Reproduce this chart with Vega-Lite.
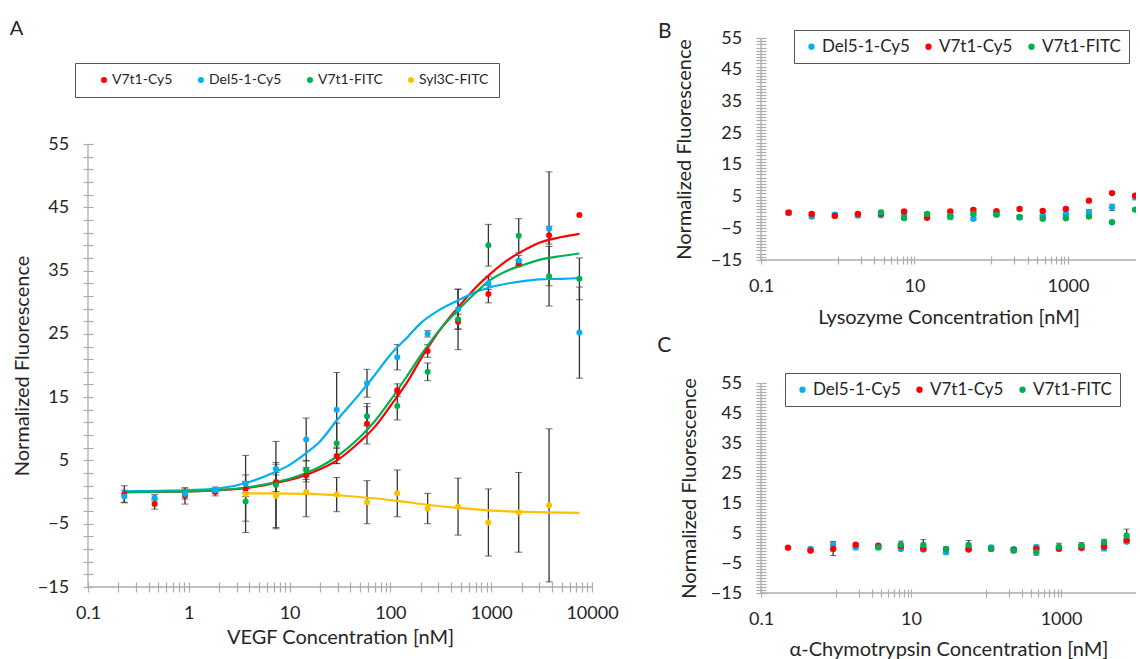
{
  "$schema": "https://vega.github.io/schema/vega-lite/v6.json",
  "padding": {"left": 9, "top": 18, "right": 0, "bottom": 0},
  "background": "white",
  "spacing": 38,
  "datasets": {
    "vegf": [
      {"c":0.229,"s":"V7t1-Cy5","v":-0.3,"e":1.3},{"c":0.458,"s":"V7t1-Cy5","v":-1.9,"e":0.8},{"c":0.916,"s":"V7t1-Cy5","v":-0.6,"e":1.3},{"c":1.83,"s":"V7t1-Cy5","v":0.0,"e":0.6},
      {"c":3.66,"s":"V7t1-Cy5","v":0.5,"e":1.2},{"c":7.32,"s":"V7t1-Cy5","v":1.6,"e":1.5},{"c":14.6,"s":"V7t1-Cy5","v":2.6,"e":1.0},{"c":29.3,"s":"V7t1-Cy5","v":5.7,"e":1.2},
      {"c":58.6,"s":"V7t1-Cy5","v":10.8,"e":3.2},{"c":117,"s":"V7t1-Cy5","v":16.1,"e":1.0},{"c":234,"s":"V7t1-Cy5","v":22.3,"e":1.0},{"c":469,"s":"V7t1-Cy5","v":26.9,"e":1.2},
      {"c":938,"s":"V7t1-Cy5","v":31.3,"e":1.4},{"c":1875,"s":"V7t1-Cy5","v":36.1,"e":0.5},{"c":3750,"s":"V7t1-Cy5","v":40.6,"e":1.4},{"c":7500,"s":"V7t1-Cy5","v":43.8,"e":0},
      {"c":0.229,"s":"Del5-1-Cy5","v":-0.7,"e":1.0},{"c":0.458,"s":"Del5-1-Cy5","v":-0.9,"e":0.5},{"c":0.916,"s":"Del5-1-Cy5","v":-0.3,"e":0.8},{"c":1.83,"s":"Del5-1-Cy5","v":0.3,"e":0.5},
      {"c":3.66,"s":"Del5-1-Cy5","v":1.3,"e":1.4},{"c":7.32,"s":"Del5-1-Cy5","v":3.7,"e":1.0},{"c":14.6,"s":"Del5-1-Cy5","v":8.3,"e":3.4},{"c":29.3,"s":"Del5-1-Cy5","v":13.0,"e":5.9},
      {"c":58.6,"s":"Del5-1-Cy5","v":17.2,"e":2.2},{"c":117,"s":"Del5-1-Cy5","v":21.3,"e":2.0},{"c":234,"s":"Del5-1-Cy5","v":25.0,"e":0.5},{"c":469,"s":"Del5-1-Cy5","v":28.9,"e":3.1},
      {"c":938,"s":"Del5-1-Cy5","v":33.0,"e":1.0},{"c":1875,"s":"Del5-1-Cy5","v":36.6,"e":0.8},{"c":3750,"s":"Del5-1-Cy5","v":41.6,"e":9.0},{"c":7500,"s":"Del5-1-Cy5","v":25.2,"e":7.2},
      {"c":3.66,"s":"V7t1-FITC","v":-1.5,"e":3.1},{"c":7.32,"s":"V7t1-FITC","v":1.1,"e":6.9},{"c":14.6,"s":"V7t1-FITC","v":3.5,"e":1.5},{"c":29.3,"s":"V7t1-FITC","v":7.7,"e":3.2},
      {"c":58.6,"s":"V7t1-FITC","v":12.0,"e":1.5},{"c":117,"s":"V7t1-FITC","v":13.6,"e":2.2},{"c":234,"s":"V7t1-FITC","v":19.0,"e":1.4},{"c":469,"s":"V7t1-FITC","v":27.3,"e":4.8},
      {"c":938,"s":"V7t1-FITC","v":39.0,"e":3.3},{"c":1875,"s":"V7t1-FITC","v":40.5,"e":2.7},{"c":3750,"s":"V7t1-FITC","v":34.1,"e":4.7},{"c":7500,"s":"V7t1-FITC","v":33.7,"e":3.3},
      {"c":3.66,"s":"Syl3C-FITC","v":-0.3,"e":6.1},{"c":7.32,"s":"Syl3C-FITC","v":-0.6,"e":5.0},{"c":14.6,"s":"Syl3C-FITC","v":0.0,"e":3.9},{"c":29.3,"s":"Syl3C-FITC","v":-0.4,"e":2.7},
      {"c":58.6,"s":"Syl3C-FITC","v":-1.6,"e":3.4},{"c":117,"s":"Syl3C-FITC","v":-0.2,"e":3.7},{"c":234,"s":"Syl3C-FITC","v":-2.6,"e":2.4},{"c":469,"s":"Syl3C-FITC","v":-2.3,"e":4.5},
      {"c":938,"s":"Syl3C-FITC","v":-4.8,"e":5.3},{"c":1875,"s":"Syl3C-FITC","v":-3.2,"e":6.3},{"c":3750,"s":"Syl3C-FITC","v":-2.1,"e":12.1}
    ],
    "vegfFit": [
      {"c":0.229,"s":"V7t1-Cy5","v":0.0},{"c":0.5,"s":"V7t1-Cy5","v":0.05},{"c":1,"s":"V7t1-Cy5","v":0.1},{"c":2,"s":"V7t1-Cy5","v":0.3},{"c":4,"s":"V7t1-Cy5","v":0.7},{"c":7,"s":"V7t1-Cy5","v":1.4},{"c":10,"s":"V7t1-Cy5","v":1.9},{"c":15,"s":"V7t1-Cy5","v":2.8},{"c":20,"s":"V7t1-Cy5","v":3.6},{"c":30,"s":"V7t1-Cy5","v":5.1},{"c":50,"s":"V7t1-Cy5","v":8.0},{"c":70,"s":"V7t1-Cy5","v":10.3},{"c":100,"s":"V7t1-Cy5","v":13.6},{"c":150,"s":"V7t1-Cy5","v":17.6},{"c":200,"s":"V7t1-Cy5","v":21.0},{"c":300,"s":"V7t1-Cy5","v":25.3},{"c":500,"s":"V7t1-Cy5","v":29.7},{"c":700,"s":"V7t1-Cy5","v":32.3},{"c":1000,"s":"V7t1-Cy5","v":34.6},{"c":1500,"s":"V7t1-Cy5","v":36.8},{"c":2000,"s":"V7t1-Cy5","v":38.0},{"c":3000,"s":"V7t1-Cy5","v":39.4},{"c":5000,"s":"V7t1-Cy5","v":40.3},{"c":7500,"s":"V7t1-Cy5","v":40.8},
      {"c":0.229,"s":"Del5-1-Cy5","v":0.1},{"c":0.5,"s":"Del5-1-Cy5","v":0.2},{"c":1,"s":"Del5-1-Cy5","v":0.3},{"c":2,"s":"Del5-1-Cy5","v":0.6},{"c":4,"s":"Del5-1-Cy5","v":1.6},{"c":7,"s":"Del5-1-Cy5","v":3.1},{"c":10,"s":"Del5-1-Cy5","v":4.3},{"c":15,"s":"Del5-1-Cy5","v":6.3},{"c":20,"s":"Del5-1-Cy5","v":8.0},{"c":30,"s":"Del5-1-Cy5","v":11.5},{"c":50,"s":"Del5-1-Cy5","v":15.6},{"c":70,"s":"Del5-1-Cy5","v":18.5},{"c":100,"s":"Del5-1-Cy5","v":21.7},{"c":150,"s":"Del5-1-Cy5","v":24.6},{"c":200,"s":"Del5-1-Cy5","v":26.7},{"c":300,"s":"Del5-1-Cy5","v":28.7},{"c":500,"s":"Del5-1-Cy5","v":30.5},{"c":700,"s":"Del5-1-Cy5","v":31.6},{"c":1000,"s":"Del5-1-Cy5","v":32.4},{"c":1500,"s":"Del5-1-Cy5","v":33.0},{"c":2000,"s":"Del5-1-Cy5","v":33.3},{"c":3000,"s":"Del5-1-Cy5","v":33.6},{"c":5000,"s":"Del5-1-Cy5","v":33.7},{"c":7500,"s":"Del5-1-Cy5","v":33.8},
      {"c":0.229,"s":"V7t1-FITC","v":0.0},{"c":0.5,"s":"V7t1-FITC","v":0.05},{"c":1,"s":"V7t1-FITC","v":0.1},{"c":2,"s":"V7t1-FITC","v":0.3},{"c":4,"s":"V7t1-FITC","v":0.8},{"c":7,"s":"V7t1-FITC","v":1.5},{"c":10,"s":"V7t1-FITC","v":2.1},{"c":15,"s":"V7t1-FITC","v":3.1},{"c":20,"s":"V7t1-FITC","v":4.0},{"c":30,"s":"V7t1-FITC","v":5.7},{"c":50,"s":"V7t1-FITC","v":8.7},{"c":70,"s":"V7t1-FITC","v":11.2},{"c":100,"s":"V7t1-FITC","v":14.5},{"c":150,"s":"V7t1-FITC","v":18.6},{"c":200,"s":"V7t1-FITC","v":21.6},{"c":300,"s":"V7t1-FITC","v":25.4},{"c":500,"s":"V7t1-FITC","v":29.2},{"c":700,"s":"V7t1-FITC","v":31.5},{"c":1000,"s":"V7t1-FITC","v":33.6},{"c":1500,"s":"V7t1-FITC","v":35.1},{"c":2000,"s":"V7t1-FITC","v":35.8},{"c":3000,"s":"V7t1-FITC","v":36.7},{"c":5000,"s":"V7t1-FITC","v":37.3},{"c":7500,"s":"V7t1-FITC","v":37.7},
      {"c":3.66,"s":"Syl3C-FITC","v":-0.2},{"c":7,"s":"Syl3C-FITC","v":-0.2},{"c":15,"s":"Syl3C-FITC","v":-0.3},{"c":30,"s":"Syl3C-FITC","v":-0.5},{"c":60,"s":"Syl3C-FITC","v":-0.9},{"c":117,"s":"Syl3C-FITC","v":-1.4},{"c":234,"s":"Syl3C-FITC","v":-2.0},{"c":469,"s":"Syl3C-FITC","v":-2.5},{"c":938,"s":"Syl3C-FITC","v":-2.9},{"c":1875,"s":"Syl3C-FITC","v":-3.1},{"c":3750,"s":"Syl3C-FITC","v":-3.2},{"c":7500,"s":"Syl3C-FITC","v":-3.3}
    ],
    "lys": [
      {"c":0.229,"s":"Del5-1-Cy5","v":-0.2,"e":0.6},{"c":0.458,"s":"Del5-1-Cy5","v":-1.3,"e":0.6},{"c":0.916,"s":"Del5-1-Cy5","v":-0.7,"e":0.6},{"c":1.83,"s":"Del5-1-Cy5","v":-1.0,"e":0.6},
      {"c":3.66,"s":"Del5-1-Cy5","v":-0.9,"e":0.5},{"c":7.32,"s":"Del5-1-Cy5","v":-0.4,"e":0.5},{"c":14.6,"s":"Del5-1-Cy5","v":-0.9,"e":0.6},{"c":29.3,"s":"Del5-1-Cy5","v":-1.5,"e":0.6},
      {"c":58.6,"s":"Del5-1-Cy5","v":-2.0,"e":0.5},{"c":117,"s":"Del5-1-Cy5","v":-0.4,"e":0.6},{"c":234,"s":"Del5-1-Cy5","v":-1.6,"e":0.6},{"c":469,"s":"Del5-1-Cy5","v":-1.0,"e":0.5},
      {"c":938,"s":"Del5-1-Cy5","v":-0.5,"e":0.5},{"c":1875,"s":"Del5-1-Cy5","v":0.0,"e":0.9},{"c":3750,"s":"Del5-1-Cy5","v":1.6,"e":1.0},{"c":7500,"s":"Del5-1-Cy5","v":4.8,"e":0.8},
      {"c":0.229,"s":"V7t1-Cy5","v":0.0,"e":0.5},{"c":0.458,"s":"V7t1-Cy5","v":-0.5,"e":0.4},{"c":0.916,"s":"V7t1-Cy5","v":-1.1,"e":0.4},{"c":1.83,"s":"V7t1-Cy5","v":-0.5,"e":0.4},
      {"c":3.66,"s":"V7t1-Cy5","v":-0.4,"e":0.4},{"c":7.32,"s":"V7t1-Cy5","v":0.3,"e":0.4},{"c":14.6,"s":"V7t1-Cy5","v":-1.7,"e":0.4},{"c":29.3,"s":"V7t1-Cy5","v":0.3,"e":0.4},
      {"c":58.6,"s":"V7t1-Cy5","v":0.8,"e":0.4},{"c":117,"s":"V7t1-Cy5","v":0.4,"e":0.4},{"c":234,"s":"V7t1-Cy5","v":1.1,"e":0.4},{"c":469,"s":"V7t1-Cy5","v":0.5,"e":0.4},
      {"c":938,"s":"V7t1-Cy5","v":1.1,"e":0.4},{"c":1875,"s":"V7t1-Cy5","v":3.7,"e":0.4},{"c":3750,"s":"V7t1-Cy5","v":6.1,"e":0.4},{"c":7500,"s":"V7t1-Cy5","v":5.3,"e":0.4},
      {"c":3.66,"s":"V7t1-FITC","v":0.0,"e":0.4},{"c":7.32,"s":"V7t1-FITC","v":-1.8,"e":0.4},{"c":14.6,"s":"V7t1-FITC","v":-0.5,"e":0.4},{"c":29.3,"s":"V7t1-FITC","v":-1.1,"e":0.4},
      {"c":58.6,"s":"V7t1-FITC","v":-0.5,"e":0.4},{"c":117,"s":"V7t1-FITC","v":-0.7,"e":0.4},{"c":234,"s":"V7t1-FITC","v":-1.4,"e":0.4},{"c":469,"s":"V7t1-FITC","v":-2.0,"e":0.4},
      {"c":938,"s":"V7t1-FITC","v":-1.8,"e":0.4},{"c":1875,"s":"V7t1-FITC","v":-1.3,"e":0.4},{"c":3750,"s":"V7t1-FITC","v":-3.1,"e":0.4},{"c":7500,"s":"V7t1-FITC","v":0.9,"e":0.4}
    ],
    "chy": [
      {"c":0.458,"s":"Del5-1-Cy5","v":-0.3,"e":0.4},{"c":0.916,"s":"Del5-1-Cy5","v":1.0,"e":1.2},{"c":1.83,"s":"Del5-1-Cy5","v":0.2,"e":0.5},
      {"c":3.66,"s":"Del5-1-Cy5","v":0.3,"e":0.5},{"c":7.32,"s":"Del5-1-Cy5","v":-0.3,"e":0.5},{"c":14.6,"s":"Del5-1-Cy5","v":-0.5,"e":0.6},{"c":29.3,"s":"Del5-1-Cy5","v":-1.4,"e":0.6},
      {"c":58.6,"s":"Del5-1-Cy5","v":-0.2,"e":0.6},{"c":117,"s":"Del5-1-Cy5","v":0.2,"e":0.5},{"c":234,"s":"Del5-1-Cy5","v":-0.4,"e":0.5},{"c":469,"s":"Del5-1-Cy5","v":0.4,"e":0.5},
      {"c":938,"s":"Del5-1-Cy5","v":-0.3,"e":0.6},{"c":1875,"s":"Del5-1-Cy5","v":0.6,"e":0.6},{"c":3750,"s":"Del5-1-Cy5","v":-0.1,"e":0.8},{"c":7500,"s":"Del5-1-Cy5","v":2.1,"e":0.6},
      {"c":0.229,"s":"V7t1-Cy5","v":0.1,"e":0.3},{"c":0.458,"s":"V7t1-Cy5","v":-0.9,"e":0.3},{"c":0.916,"s":"V7t1-Cy5","v":-0.3,"e":2.2},{"c":1.83,"s":"V7t1-Cy5","v":1.1,"e":0.4},
      {"c":3.66,"s":"V7t1-Cy5","v":0.8,"e":0.4},{"c":7.32,"s":"V7t1-Cy5","v":0.6,"e":0.4},{"c":14.6,"s":"V7t1-Cy5","v":-0.2,"e":0.4},{"c":29.3,"s":"V7t1-Cy5","v":-0.4,"e":0.4},
      {"c":58.6,"s":"V7t1-Cy5","v":-0.5,"e":0.4},{"c":117,"s":"V7t1-Cy5","v":-0.3,"e":0.4},{"c":234,"s":"V7t1-Cy5","v":-0.6,"e":0.4},{"c":469,"s":"V7t1-Cy5","v":-0.3,"e":0.4},
      {"c":938,"s":"V7t1-Cy5","v":-0.2,"e":0.4},{"c":1875,"s":"V7t1-Cy5","v":0.0,"e":0.4},{"c":3750,"s":"V7t1-Cy5","v":0.5,"e":0.4},{"c":7500,"s":"V7t1-Cy5","v":2.6,"e":0.5},
      {"c":3.66,"s":"V7t1-FITC","v":0.2,"e":0.5},{"c":7.32,"s":"V7t1-FITC","v":1.1,"e":1.2},{"c":14.6,"s":"V7t1-FITC","v":1.0,"e":1.8},{"c":29.3,"s":"V7t1-FITC","v":-0.3,"e":0.6},
      {"c":58.6,"s":"V7t1-FITC","v":1.0,"e":1.5},{"c":117,"s":"V7t1-FITC","v":-0.3,"e":0.6},{"c":234,"s":"V7t1-FITC","v":-0.9,"e":0.6},{"c":469,"s":"V7t1-FITC","v":-1.4,"e":1.0},
      {"c":938,"s":"V7t1-FITC","v":0.4,"e":1.2},{"c":1875,"s":"V7t1-FITC","v":0.8,"e":1.0},{"c":3750,"s":"V7t1-FITC","v":1.9,"e":1.0},{"c":7500,"s":"V7t1-FITC","v":4.1,"e":2.2}
    ]
  },
  "resolve": {"scale": {"color": "independent"}, "legend": {"color": "independent"}},
  "hconcat": [
    {
      "bounds": "flush",
      "spacing": 7,
      "resolve": {"scale": {"color": "independent"}, "legend": {"color": "independent"}},
      "vconcat": [
        {
          "width": 504,
          "height": 99,
          "data": {"values": [{}]},
          "mark": {"type": "text", "text": ""}
        },
        {
          "width": 504,
          "height": 443,
          "title": {"text": "A", "offset": 23.7, "dx": -3},
          "layer": [
            {
              "data": {"values": [{}]},
              "mark": {"type": "rule", "color": "#acacac", "strokeWidth": 1.3},
              "encoding": {
                "x": {"datum": 0.1, "type": "quantitative", "title": "VEGF Concentration [nM]",
                  "scale": {"type": "log", "domain": [0.1, 10000], "nice": false},
                  "axis": {"values": [0.1,0.2,0.3,0.4,0.5,0.6,0.7,0.8,0.9,1,2,3,4,5,6,7,8,9,10,20,30,40,50,60,70,80,90,100,200,300,400,500,600,700,800,900,1000,2000,3000,4000,5000,6000,7000,8000,9000,10000],
                    "tickCount": 500, "format": "~g", "labelExpr": "indexof([0.1,1,10,100,1000,10000], datum.value) >= 0 ? datum.label : ''",
                    "offset": -5, "tickSize": 10, "labelPadding": 12.5, "titlePadding": 4.6}
                }
              }
            },
            {
              "data": {"values": [{}]},
              "mark": {"type": "rule", "color": "#acacac", "strokeWidth": 1.3},
              "encoding": {
                "y": {"datum": -15, "type": "quantitative", "title": "Normalized Fluorescence",
                  "scale": {"domain": [-15, 55], "nice": false, "zero": false},
                  "axis": {"values": [-15,-13,-11,-9,-7,-5,-3,-1,1,3,5,7,9,11,13,15,17,19,21,23,25,27,29,31,33,35,37,39,41,43,45,47,49,51,53,55],
                    "tickCount": 500, "format": "~g", "labelExpr": "(datum.value + 15) % 10 === 0 ? datum.label : ''",
                    "offset": -5, "tickSize": 10, "labelPadding": 14.3, "titlePadding": 4.7}
                }
              }
            },
            {
              "data": {"name": "vegf"},
              "transform": [{"filter": "datum.e > 0"}],
              "mark": {"type": "errorbar", "ticks": {"size": 7, "color": "#333333", "strokeWidth": 1.3}, "rule": {"color": "#333333", "strokeWidth": 1.3}},
              "encoding": {
                "x": {"field": "c", "type": "quantitative", "title": "VEGF Concentration [nM]", "scale": {"type": "log", "domain": [0.1, 10000], "nice": false}},
                "y": {"field": "v", "type": "quantitative", "title": "Normalized Fluorescence", "scale": {"domain": [-15, 55], "nice": false, "zero": false}},
                "yError": {"field": "e"}
              }
            },
            {
              "data": {"name": "vegfFit"},
              "mark": {"type": "line", "strokeWidth": 2.2, "interpolate": "monotone"},
              "encoding": {
                "x": {"field": "c", "type": "quantitative", "title": "VEGF Concentration [nM]", "scale": {"type": "log", "domain": [0.1, 10000], "nice": false}},
                "y": {"field": "v", "type": "quantitative", "title": "Normalized Fluorescence", "scale": {"domain": [-15, 55], "nice": false, "zero": false}},
                "stroke": {"field": "s", "type": "nominal", "legend": null,
                  "scale": {"domain": ["V7t1-Cy5","Del5-1-Cy5","V7t1-FITC","Syl3C-FITC"], "range": ["#FF0000","#00B0F0","#00B050","#FFC000"]}}
              }
            },
            {
              "data": {"name": "vegf"},
              "mark": {"type": "point", "filled": true, "size": 36, "opacity": 1},
              "encoding": {
                "x": {"field": "c", "type": "quantitative", "title": "VEGF Concentration [nM]", "scale": {"type": "log", "domain": [0.1, 10000], "nice": false}},
                "y": {"field": "v", "type": "quantitative", "title": "Normalized Fluorescence", "scale": {"domain": [-15, 55], "nice": false, "zero": false}},
                "color": {"field": "s", "type": "nominal",
                  "scale": {"domain": ["V7t1-Cy5","Del5-1-Cy5","V7t1-FITC","Syl3C-FITC"], "range": ["#FF0000","#00B0F0","#00B050","#FFC000"]},
                  "legend": {"orient": "none", "legendX": -13, "legendY": -81, "direction": "horizontal",
                    "title": " ", "titleOrient": "left", "titlePadding": 12, "titleFontSize": 14,
                    "strokeColor": "#555555", "fillColor": "white", "padding": 10,
                    "labelFontSize": 14, "symbolSize": 36, "symbolType": "circle", "columnPadding": 21, "labelOffset": 1}
                }
              }
            }
          ]
        }
      ]
    },
    {
      "bounds": "flush",
      "spacing": 123,
      "resolve": {"scale": {"color": "independent"}, "legend": {"color": "independent"}},
      "vconcat": [
        {
          "width": 375,
          "height": 222,
          "title": {"text": "B", "offset": -13, "dx": -17, "fontSize": 21},
          "layer": [
            {
              "data": {"values": [{}]},
              "mark": {"type": "rule", "color": "#acacac", "strokeWidth": 1.3},
              "encoding": {
                "x": {"datum": 0.1, "type": "quantitative", "title": "Lysozyme Concentration [nM]",
                  "scale": {"type": "log", "domain": [0.1, 7700], "nice": false},
                  "axis": {"values": [0.1,1,2,3,4,5,6,7,8,9,10,100,200,300,400,500,600,700,800,900,1000],
                    "tickCount": 500, "format": "~g", "labelExpr": "indexof([0.1,10,1000], datum.value) >= 0 ? datum.label : ''",
                    "offset": -4, "tickSize": 8, "labelPadding": 13.6, "titlePadding": 11.7}
                }
              }
            },
            {
              "data": {"values": [{}]},
              "mark": {"type": "rule", "color": "#acacac", "strokeWidth": 1.3},
              "encoding": {
                "y": {"datum": -15, "type": "quantitative", "title": "Normalized Fluorescence",
                  "scale": {"domain": [-15, 55], "nice": false, "zero": false},
                  "axis": {"values": [-15,-14,-13,-12,-11,-10,-9,-8,-7,-6,-5,-4,-3,-2,-1,0,1,2,3,4,5,6,7,8,9,10,11,12,13,14,15,16,17,18,19,20,21,22,23,24,25,26,27,28,29,30,31,32,33,34,35,36,37,38,39,40,41,42,43,44,45,46,47,48,49,50,51,52,53,54,55],
                    "tickCount": 500, "format": "~g", "labelExpr": "(datum.value + 15) % 10 === 0 ? datum.label : ''",
                    "offset": -5, "tickSize": 10, "labelPadding": 14.3, "titlePadding": 15.4}
                }
              }
            },
            {
              "data": {"name": "lys"},
              "mark": {"type": "errorbar", "clip": true, "ticks": {"size": 6, "color": "#333333", "strokeWidth": 1.3}, "rule": {"color": "#333333", "strokeWidth": 1.3}},
              "encoding": {
                "x": {"field": "c", "type": "quantitative", "title": "Lysozyme Concentration [nM]", "scale": {"type": "log", "domain": [0.1, 7700], "nice": false}},
                "y": {"field": "v", "type": "quantitative", "title": "Normalized Fluorescence", "scale": {"domain": [-15, 55], "nice": false, "zero": false}},
                "yError": {"field": "e"}
              }
            },
            {
              "data": {"name": "lys"},
              "mark": {"type": "point", "filled": true, "size": 40, "opacity": 1, "clip": true},
              "encoding": {
                "x": {"field": "c", "type": "quantitative", "title": "Lysozyme Concentration [nM]", "scale": {"type": "log", "domain": [0.1, 7700], "nice": false}},
                "y": {"field": "v", "type": "quantitative", "title": "Normalized Fluorescence", "scale": {"domain": [-15, 55], "nice": false, "zero": false}},
                "color": {"field": "s", "type": "nominal",
                  "scale": {"domain": ["Del5-1-Cy5","V7t1-Cy5","V7t1-FITC"], "range": ["#00B0F0","#FF0000","#00B050"]},
                  "legend": {"orient": "none", "legendX": 33, "legendY": -8, "direction": "horizontal",
                    "title": " ", "titleOrient": "left", "titlePadding": 1, "titleFontSize": 14,
                    "strokeColor": "#555555", "fillColor": "white", "padding": 8,
                    "labelFontSize": 17, "symbolSize": 40, "symbolType": "circle", "columnPadding": 10, "labelOffset": 2}
                }
              }
            }
          ]
        },
        {
          "width": 375,
          "height": 210,
          "title": {"text": "C", "offset": 17, "dx": -22.5, "fontSize": 21},
          "layer": [
            {
              "data": {"values": [{}]},
              "mark": {"type": "rule", "color": "#acacac", "strokeWidth": 1.3},
              "encoding": {
                "x": {"datum": 0.1, "type": "quantitative", "title": "α-Chymotrypsin Concentration [nM]",
                  "scale": {"type": "log", "domain": [0.1, 10000], "nice": false},
                  "axis": {"values": [0.1,1,2,3,4,5,6,7,8,9,10,100,200,300,400,500,600,700,800,900,1000],
                    "tickCount": 500, "format": "~g", "labelExpr": "indexof([0.1,10,1000], datum.value) >= 0 ? datum.label : ''",
                    "offset": -4, "tickSize": 8, "labelPadding": 13.6, "titlePadding": 10.5}
                }
              }
            },
            {
              "data": {"values": [{}]},
              "mark": {"type": "rule", "color": "#acacac", "strokeWidth": 1.3},
              "encoding": {
                "y": {"datum": -15, "type": "quantitative", "title": "Normalized Fluorescence",
                  "scale": {"domain": [-15, 55], "nice": false, "zero": false},
                  "axis": {"values": [-15,-14,-13,-12,-11,-10,-9,-8,-7,-6,-5,-4,-3,-2,-1,0,1,2,3,4,5,6,7,8,9,10,11,12,13,14,15,16,17,18,19,20,21,22,23,24,25,26,27,28,29,30,31,32,33,34,35,36,37,38,39,40,41,42,43,44,45,46,47,48,49,50,51,52,53,54,55],
                    "tickCount": 500, "format": "~g", "labelExpr": "(datum.value + 15) % 10 === 0 ? datum.label : ''",
                    "offset": -5, "tickSize": 10, "labelPadding": 14.3, "titlePadding": 10.7}
                }
              }
            },
            {
              "data": {"name": "chy"},
              "mark": {"type": "errorbar", "ticks": {"size": 6, "color": "#333333", "strokeWidth": 1.3}, "rule": {"color": "#333333", "strokeWidth": 1.3}},
              "encoding": {
                "x": {"field": "c", "type": "quantitative", "title": "α-Chymotrypsin Concentration [nM]", "scale": {"type": "log", "domain": [0.1, 10000], "nice": false}},
                "y": {"field": "v", "type": "quantitative", "title": "Normalized Fluorescence", "scale": {"domain": [-15, 55], "nice": false, "zero": false}},
                "yError": {"field": "e"}
              }
            },
            {
              "data": {"name": "chy"},
              "mark": {"type": "point", "filled": true, "size": 40, "opacity": 1},
              "encoding": {
                "x": {"field": "c", "type": "quantitative", "title": "α-Chymotrypsin Concentration [nM]", "scale": {"type": "log", "domain": [0.1, 10000], "nice": false}},
                "y": {"field": "v", "type": "quantitative", "title": "Normalized Fluorescence", "scale": {"domain": [-15, 55], "nice": false, "zero": false}},
                "color": {"field": "s", "type": "nominal",
                  "scale": {"domain": ["Del5-1-Cy5","V7t1-Cy5","V7t1-FITC"], "range": ["#00B0F0","#FF0000","#00B050"]},
                  "legend": {"orient": "none", "legendX": 24, "legendY": -10, "direction": "horizontal",
                    "title": " ", "titleOrient": "left", "titlePadding": 1, "titleFontSize": 14,
                    "strokeColor": "#555555", "fillColor": "white", "padding": 8,
                    "labelFontSize": 17, "symbolSize": 40, "symbolType": "circle", "columnPadding": 10, "labelOffset": 2}
                }
              }
            }
          ]
        }
      ]
    }
  ],
  "config": {
    "font": "Lato",
    "view": {"stroke": null},
    "axis": {"domain": false, "grid": false, "labelFont": "Lato", "titleFont": "Lato", "labelFontSize": 18, "titleFontSize": 20,
      "titleFontWeight": "normal", "labelColor": "#262626", "titleColor": "#262626", "tickColor": "#acacac", "tickWidth": 1.2,
      "labelOverlap": false, "labelFlush": false, "labelBound": false},
    "legend": {"labelFont": "Lato", "labelColor": "#262626", "titleFont": "Lato"},
    "title": {"font": "Lato", "fontSize": 20, "fontWeight": "normal", "anchor": "start", "frame": "bounds", "color": "#262626"}
  }
}
